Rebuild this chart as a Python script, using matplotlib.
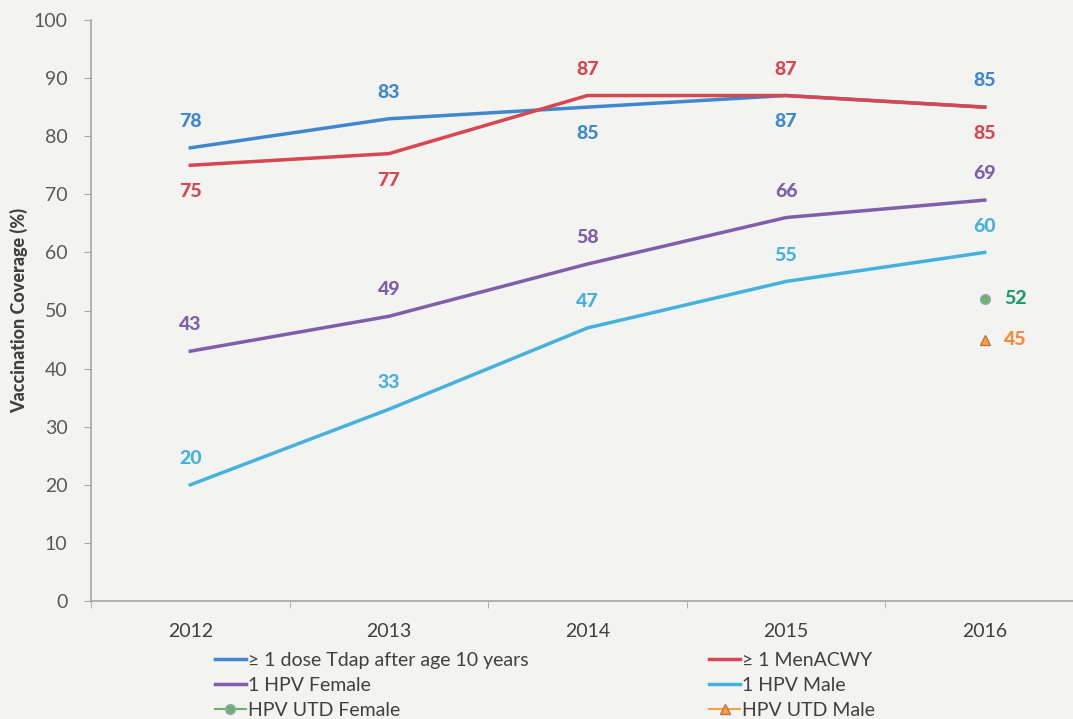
import matplotlib.pyplot as plt
import numpy as np

years = ["2012", "2013", "2014", "2015", "2016"]
tdap = [78, 83, 85, 87, 85]
menacwy = [75, 77, 87, 87, 85]
hpv_female = [43, 49, 58, 66, 69]
hpv_male = [20, 33, 47, 55, 60]
hpv_utd_female = 52
hpv_utd_male = 45

plt.rcParams["font.family"] = ["Lato", "DejaVu Sans"]

fig = plt.figure(figsize=(10.73, 7.19), dpi=100)
fig.patch.set_facecolor("#f3f3f1")
ax = fig.add_axes([91 / 1073, 1 - 601 / 719, 993 / 1073, 581 / 719])
ax.set_facecolor("#f3f3f1")

x = np.arange(len(years))
series = [
    (tdap, "#3f87cf", "≥ 1 dose Tdap after age 10 years", [1, 1, -1, -1, 1]),
    (menacwy, "#d8464f", "≥ 1 MenACWY", [-1, -1, 1, 1, -1]),
    (hpv_female, "#7f5fa9", "1 HPV Female", [1] * 5),
    (hpv_male, "#45b2de", "1 HPV Male", [1] * 5),
]
handles = {}
for vals, col, lab, side in series:
    (h,) = ax.plot(x, vals, color=col, lw=2.5, label=lab)
    handles[lab] = h
    for xi, v, s in zip(x, vals, side):
        ax.annotate(str(v), (xi, v), xytext=(0, 19 * s), textcoords="offset points",
                    ha="center", va="center", color=col, fontsize=14, fontweight="black")

(hf,) = ax.plot([x[-1]], [hpv_utd_female], marker="o", ms=7, color="#72b063",
                mec="#8aa7c9", ls="-", label="HPV UTD Female")
ax.annotate(str(hpv_utd_female), (x[-1], hpv_utd_female), xytext=(22, 0),
            textcoords="offset points", ha="center", va="center",
            color="#1f9c6c", fontsize=14, fontweight="black")
(hm,) = ax.plot([x[-1]], [hpv_utd_male], marker="^", ms=7, color="#f5a13f",
                mec="#c8704a", ls="-", label="HPV UTD Male")
ax.annotate(str(hpv_utd_male), (x[-1], hpv_utd_male), xytext=(22, 0),
            textcoords="offset points", ha="center", va="center",
            color="#f58a3a", fontsize=14, fontweight="black")

ax.set_xlim(-0.5, len(years) - 0.5)
ax.set_ylim(0, 100)
ax.set_yticks(range(0, 101, 10))
ax.set_xticks(x)
ax.set_xticklabels(years)
ax.set_xticks(np.arange(-0.5, len(years), 1), minor=True)
ax.tick_params(axis="x", which="major", length=0, pad=16, labelsize=14, labelcolor="#404040")
ax.tick_params(axis="x", which="minor", length=5, color="#a6a6a6")
ax.tick_params(axis="y", length=5, color="#a6a6a6", labelsize=14, labelcolor="#595959", pad=12)
for s in ["top", "right"]:
    ax.spines[s].set_visible(False)
for s in ["left", "bottom"]:
    ax.spines[s].set_color("#a6a6a6")
    ax.spines[s].set_linewidth(1.2)

ax.set_ylabel("Vaccination Coverage (%)", fontsize=13, fontweight="black", color="#404040", labelpad=4)

order = [handles["≥ 1 dose Tdap after age 10 years"], handles["1 HPV Female"], hf,
         handles["≥ 1 MenACWY"], handles["1 HPV Male"], hm]
fig.legend(handles=order, labels=[h.get_label() for h in order], ncol=2,
           loc="upper left", bbox_to_anchor=(205 / 1073, 1 - 642 / 719),
           frameon=False, fontsize=14, handlelength=1.6, handletextpad=0.1,
           columnspacing=9.3, labelspacing=0.42, borderpad=0, labelcolor="#404040")

fig.savefig("out.png", dpi=100, facecolor=fig.get_facecolor())
